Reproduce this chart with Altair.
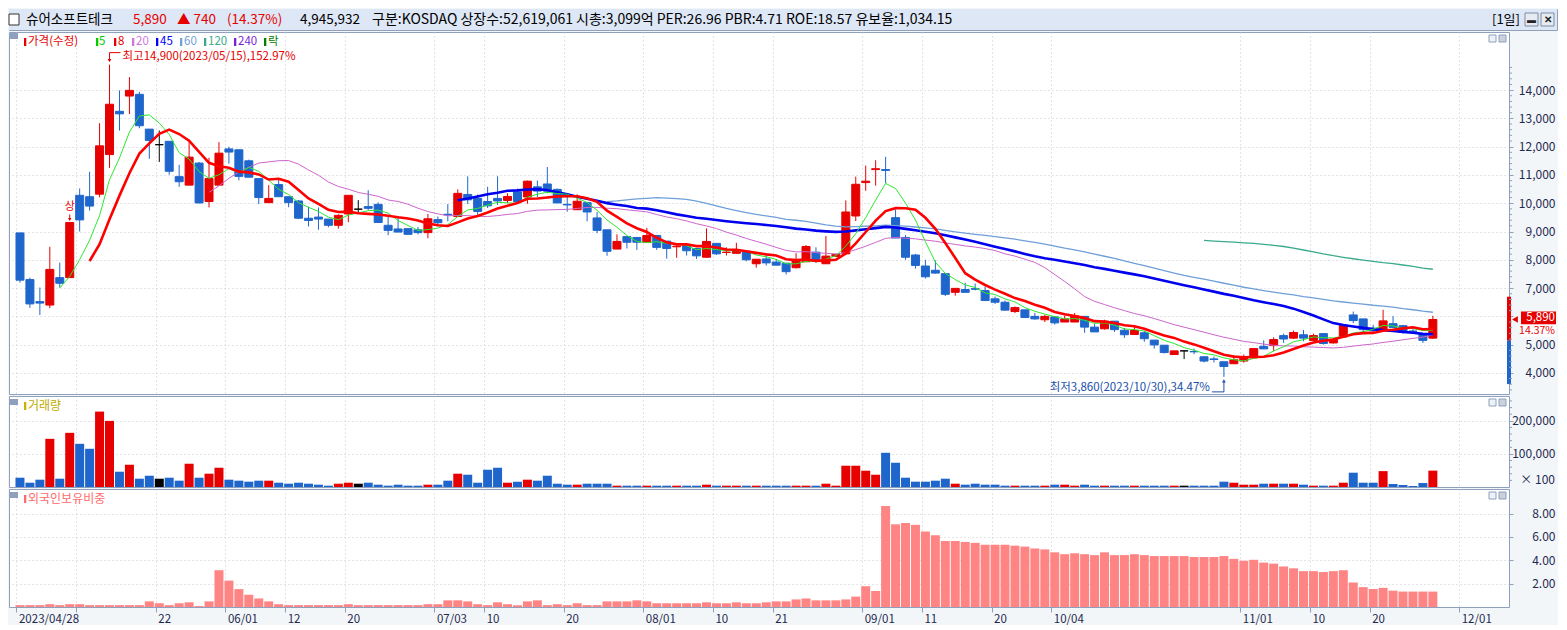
import json
import altair as alt
import numpy as np
import pandas as pd

# ------------------------------------------------------------------ data
OPEN = [8950, 7300, 6520, 6400, 7370, 7370, 10280, 10230, 10320, 11720,
        13250, 13790, 13850, 12620, 12070, 12190, 10940, 10640, 11420, 10060,
        10640, 11920, 11890, 11500, 10870, 10020, 10660, 10230, 10080, 9470,
        9510, 9440, 9220, 9620, 9790, 9880, 9960, 9220, 9090, 9100,
        9060, 8960, 9420, 9610, 9530, 10310, 10170, 10060, 10170, 10100,
        10400, 10220, 10580, 10680, 10490, 9960, 9770, 10020, 9480, 9060,
        8380, 8820, 8790, 8610, 8860, 8660, 8460, 8530, 8400, 8090,
        8580, 8260, 8230, 8300, 7860, 8030, 7920, 7880, 7720, 7930,
        8270, 7860, 8120, 8210, 9550, 10730, 11190, 11190, 9490, 8790,
        8170, 7780, 7630, 7510, 6850, 6950, 6980, 6910, 6620, 6500,
        6170, 6230, 6000, 5880, 5980, 5800, 5800, 6000, 5620, 5560,
        5830, 5510, 5360, 5420, 5160, 4980, 4650, 4780, 4760, 4570,
        4495, 4395, 4325, 4420, 4535, 4940, 4965, 5320, 5230, 5350,
        5150, 5390, 5060, 5270, 6050, 5910, 5580, 5500, 5740, 5670,
        5480, 5350, 5230]
HIGH = [8950, 7370, 7020, 8460, 7900, 9320, 10520, 11110, 12830, 14900,
        13990, 14460, 13940, 12620, 12570, 12190, 11360, 12250, 11460, 11610,
        12160, 12000, 11890, 11540, 10870, 10640, 10840, 10230, 10110, 9880,
        9850, 9440, 9610, 10280, 10110, 10460, 10030, 9530, 9530, 9100,
        9160, 9620, 9530, 9970, 10490, 10950, 10310, 10580, 10950, 10350,
        10520, 10800, 10800, 11280, 10520, 10220, 10310, 10040, 9690, 9060,
        8900, 8820, 8790, 9130, 8880, 8660, 8560, 8530, 8400, 9110,
        8580, 8440, 8600, 8300, 8020, 8190, 8030, 7880, 8230, 8520,
        8440, 8840, 8210, 10100, 10940, 11330, 11520, 11640, 9780, 8880,
        8210, 8000, 7980, 7510, 6990, 7190, 7160, 7050, 6700, 6560,
        6350, 6230, 6120, 6060, 6000, 6030, 6120, 6000, 5740, 5880,
        5830, 5590, 5650, 5480, 5160, 4980, 4780, 4780, 4860, 4600,
        4580, 4395, 4625, 4650, 4860, 5150, 5260, 5390, 5500, 5520,
        5390, 5410, 5230, 5680, 6170, 5910, 5700, 6230, 6010, 5700,
        5610, 5410, 6020]
LOW = [7190, 6300, 6050, 6290, 7020, 7370, 9000, 9740, 10210, 11250,
       12570, 13150, 12650, 11570, 11460, 11010, 10580, 10640, 9990, 9850,
       10640, 11400, 10810, 10920, 9970, 10020, 10230, 9860, 9440, 9180,
       9060, 9150, 9100, 9330, 9680, 9760, 9320, 8870, 8980, 8890,
       8900, 8760, 9190, 9360, 9530, 9970, 9540, 9830, 9940, 10000,
       9990, 9980, 10220, 10350, 10010, 9700, 9770, 9360, 8940, 8140,
       8380, 8400, 8350, 8610, 8350, 8040, 8070, 8150, 8030, 8070,
       8170, 8150, 8230, 7950, 7720, 7800, 7810, 7480, 7690, 7930,
       7890, 7860, 8120, 8200, 9370, 10440, 10620, 10710, 8770, 8000,
       7690, 7340, 7510, 6720, 6730, 6850, 6920, 6560, 6440, 6200,
       6120, 5940, 5880, 5800, 5710, 5800, 5800, 5420, 5450, 5530,
       5450, 5240, 5360, 5100, 4860, 4690, 4650, 4490, 4660, 4370,
       4370, 3860, 4325, 4360, 4510, 4850, 4765, 5060, 5200, 5120,
       5120, 5000, 5040, 5260, 5760, 5430, 5430, 5500, 5580, 5390,
       5430, 5060, 5200]
CLOSE = [7280, 6440, 6470, 7660, 7170, 9320, 9410, 9900, 12030, 13500,
         13160, 13990, 12740, 12220, 12070, 11130, 10760, 11630, 10010, 10870,
         11770, 11810, 10950, 10920, 10200, 10170, 10230, 10020, 9470, 9390,
         9440, 9220, 9570, 10280, 9790, 9820, 9320, 9040, 8980, 8900,
         8960, 9450, 9310, 9590, 10350, 10120, 9710, 9910, 10080, 10240,
         10060, 10780, 10430, 10430, 10010, 9940, 10070, 9690, 9040, 8300,
         8650, 8620, 8620, 8860, 8440, 8400, 8480, 8320, 8140, 8650,
         8210, 8270, 8350, 8000, 8020, 7890, 7810, 7580, 7980, 8470,
         7950, 8130, 8190, 9690, 10670, 10780, 11220, 11160, 8770, 8090,
         7800, 7400, 7530, 6780, 6990, 6850, 6960, 6560, 6500, 6220,
         6310, 5960, 5910, 6000, 5770, 5910, 6020, 5620, 5450, 5830,
         5530, 5350, 5500, 5210, 4990, 4720, 4780, 4780, 4745, 4420,
         4475, 4230, 4465, 4535, 4860, 4850, 5180, 5200, 5430, 5230,
         5320, 5040, 5180, 5680, 5850, 5530, 5490, 5840, 5610, 5430,
         5470, 5150, 5890]
# volume, in units of 100 shares (as on the axis)
VOLUME = [28100, 13000, 22100, 145600, 25100, 163700, 130500, 115500, 227900, 199800,
          46200, 67300, 25100, 34100, 25100, 28100, 19100, 70300, 28100, 40200,
          58200, 22100, 19100, 16100, 19100, 19100, 13000, 10000, 13000, 10000,
          7000, 4000, 10000, 13000, 10000, 13000, 7000, 4000, 7000, 4000,
          4000, 7000, 7000, 19100, 40200, 37100, 13000, 52200, 58200, 13000,
          16100, 22100, 19100, 34100, 10000, 7000, 7000, 10000, 10000, 10000,
          4000, 4000, 4000, 4000, 4000, 4000, 4000, 4000, 4000, 7000,
          4000, 4000, 4000, 4000, 4000, 4000, 4000, 4000, 4000, 4000,
          4000, 10000, 4000, 64300, 64300, 49200, 37100, 103400, 73300, 28100,
          16100, 16100, 19100, 25100, 10000, 7000, 10000, 7000, 7000, 4000,
          4000, 4000, 4000, 4000, 7000, 7000, 4000, 7000, 4000, 4000,
          4000, 4000, 4000, 4000, 4000, 4000, 4000, 4000, 4000, 4000,
          4000, 16100, 13000, 7000, 7000, 10000, 10000, 10000, 10000, 7000,
          4000, 4000, 4000, 13000, 43200, 13000, 13000, 48000, 9000, 6000,
          3000, 12000, 49459]
# foreign ownership ratio, %
FOREIGN = [0.16, 0.16, 0.16, 0.24, 0.16, 0.24, 0.24, 0.16, 0.16, 0.16,
           0.16, 0.16, 0.16, 0.48, 0.32, 0.16, 0.32, 0.40, 0.08, 0.48,
           3.15, 2.26, 1.53, 1.05, 0.73, 0.48, 0.24, 0.16, 0.16, 0.16,
           0.16, 0.16, 0.16, 0.24, 0.16, 0.16, 0.16, 0.16, 0.16, 0.16,
           0.16, 0.24, 0.24, 0.57, 0.57, 0.48, 0.24, 0.16, 0.40, 0.24,
           0.16, 0.48, 0.57, 0.16, 0.24, 0.16, 0.32, 0.16, 0.16, 0.48,
           0.48, 0.48, 0.57, 0.48, 0.32, 0.32, 0.32, 0.32, 0.32, 0.40,
           0.32, 0.32, 0.40, 0.32, 0.32, 0.40, 0.48, 0.48, 0.65, 0.73,
           0.57, 0.57, 0.57, 0.65, 0.89, 1.78, 1.37, 8.64, 7.08, 7.19,
           7.03, 6.46, 6.14, 5.65, 5.65, 5.57, 5.49, 5.33, 5.33, 5.33,
           5.25, 5.17, 5.01, 4.93, 4.68, 4.52, 4.60, 4.52, 4.44, 4.68,
           4.44, 4.44, 4.52, 4.44, 4.36, 4.36, 4.36, 4.36, 4.28, 4.28,
           4.28, 4.36, 4.12, 3.96, 4.04, 3.80, 3.71, 3.47, 3.31, 3.07,
           3.07, 2.99, 3.07, 3.15, 2.10, 1.70, 1.54, 1.64, 1.40, 1.32,
           1.32, 1.32, 1.32]

TICK_IDX = [0, 6, 14, 21, 27, 33, 42, 47, 55, 63, 70, 76, 85, 91, 98, 104, 123, 130, 136, 145]
TICK_LABELS = ["2023/04/28", "", "22", "06/01", "12", "20", "07/03", "10", "20", "08/01",
               "10", "21", "09/01", "11", "20", "10/04", "11/01", "10", "20", "12/01"]
PRICE_TICKS = [4000, 5000, 6000, 7000, 8000, 9000, 10000, 11000, 12000, 13000, 14000]
VOL_TICKS = [100000, 200000]
FRN_TICKS = [2, 4, 6, 8]
MA_PERIODS = [5, 8, 20, 45, 60, 120]
LIMIT_UP_IDX = [5]
PRICE_LIMITS = [3605, 5150, 6695]          # lower limit, previous close, upper limit

NAME = "슈어소프트테크"
HDR_PRICE = "5,890"
HDR_CHANGE = "▲ 740"
HDR_PCT = "(14.37%)"
HDR_VOL = "4,945,932"
HDR_INFO = "구분:KOSDAQ 상장수:52,619,061 시총:3,099억 PER:26.96 PBR:4.71 ROE:18.57 유보율:1,034.15"
HIGH_LABEL = "최고14,900(2023/05/15),152.97%"
LOW_LABEL = "최저3,860(2023/10/30),34.47%"
LAST_PCT = "14.37%"
LEGEND = ["가격(수정)", "5", "8", "20", "45", "60", "120", "240", "락"]

# ------------------------------------------------------------------ styles
FONT = "Noto Sans CJK KR"
RED = "#e60000"
BLUE = "#1f66cc"
BORDER = "#8fa0bd"
GRID = "#c4c8ce"
AXTXT = "#1e2a50"
PINK = "#ff8484"
MA_STYLE = {5: ("#2ee82e", 1.0), 8: ("#ff0000", 2.6), 20: ("#cc66cc", 1.0),
            45: ("#0000ee", 2.6), 60: ("#6f9fd8", 1.3), 120: ("#3aaa8c", 1.3)}
LEGEND_BAR_X = [15, 87, 105, 123, 147, 171, 195, 225, 255]
LEGEND_TXT_X = [19, 90, 109, 127, 151, 175, 199, 229, 259]
LEGEND_COLORS = [RED, "#00cc00", RED, "#cc77dd", "#0000ff", "#6f9fd8", "#3aaa8c", "#7b1fd6", "#008000"]

W = 1500
TOTAL_W = 1548
H_HDR, H_PRICE, H_VOL, H_FRN = 21, 362, 91, 118

df = pd.DataFrame({"i": np.arange(len(CLOSE)), "open": OPEN, "high": HIGH, "low": LOW,
                   "close": CLOSE, "vol": VOLUME, "frn": FOREIGN})
df["dir"] = np.where(df.close > df.open, "up", np.where(df.close < df.open, "down", "flat"))
ONE = pd.DataFrame({"k": [0]})

DIR_SCALE = alt.Scale(domain=["up", "down", "flat"], range=[RED, BLUE, "#000000"])
XS = alt.Scale(domain=[-0.6, 149.15], nice=False, zero=False)
GRID_VALUES = [t - 0.35 for t in TICK_IDX]
LABEL_EXPR = f"{json.dumps(TICK_LABELS)}[indexof({json.dumps(TICK_IDX)}, round(datum.value + 0.35))]"

X_HIDDEN = alt.Axis(values=GRID_VALUES, labels=False, ticks=False, domain=False, grid=True,
                    title=None, gridColor=GRID, gridDash=[1, 3])
X_BOTTOM = alt.Axis(values=GRID_VALUES, labelExpr=LABEL_EXPR, ticks=True, tickSize=5,
                    tickColor=BORDER, domain=False, grid=True, title=None, labelAlign="left",
                    labelBaseline="top", labelPadding=1, labelOffset=2, labelFlush=False,
                    labelOverlap=False, labelBound=False, labelFontSize=11.5, labelColor=AXTXT,
                    gridColor=GRID, gridDash=[1, 3])


def xenc(axis):
    return alt.X("i:Q", scale=XS, axis=axis)


def yaxis(values, label_expr):
    return alt.Axis(orient="right", values=values, labelExpr=label_expr, grid=True, gridColor=GRID,
                    gridDash=[1, 3], ticks=True, tickSize=4, tickColor=BORDER, domain=False,
                    labelPadding=42, labelAlign="right", labelBaseline="middle",
                    labelFontSize=12, labelColor=AXTXT, title=None, minExtent=48, maxExtent=48)


def text_at(txt, x, y, color, size=12, align="left", **kw):
    return alt.Chart(ONE).mark_text(text=txt, align=align, baseline="middle", fontSize=size,
                                    color=color, font=FONT, **kw).encode(
        x=alt.value(x), y=alt.value(y))


def box_at(x1, x2, y1, y2, fill, stroke=None):
    kw = {"stroke": stroke, "strokeWidth": 1} if stroke else {}
    return alt.Chart(ONE).mark_rect(color=fill, **kw).encode(
        x=alt.value(x1), x2=alt.value(x2), y=alt.value(y1), y2=alt.value(y2))


def panel_icons():
    return [box_at(W - 20, W - 13, 3, 10, "#eef1f5", BORDER),
            box_at(W - 10, W - 3, 3, 10, "#c9d1dd", BORDER)]


# ------------------------------------------------------------------ header
header = alt.layer(
    box_at(0, TOTAL_W, 0, H_HDR, "#dde7f5"),
    box_at(0, 10, 5, 16, "white", "#333333"),
    text_at(NAME, 17, 11, "#000000", 13.5),
    text_at(HDR_PRICE, 124, 11, RED, 13.5),
    text_at(HDR_CHANGE, 168, 11, RED, 13.5),
    text_at(HDR_PCT, 218, 11, RED, 13.5),
    text_at(HDR_VOL, 291, 11, "#000000", 13.5),
    text_at(HDR_INFO, 363, 11, "#000000", 14),
    text_at("[1일]", 1483, 11, "#000000", 13),
    box_at(1516, 1529, 4, 17, "#e6ebf2", "#7f8ca0"),
    box_at(1532, 1545, 4, 17, "#e6ebf2", "#7f8ca0"),
    text_at("▬", 1522.5, 10.5, "#222222", 9, "center"),
    text_at("✕", 1538.5, 10.5, "#222222", 10, "center", fontWeight="bold"),
).properties(width=TOTAL_W, height=H_HDR)

# ------------------------------------------------------------------ price panel
PS = alt.Scale(domain=[3255, 16054], nice=False, zero=False)
PA = yaxis(PRICE_TICKS, f"abs(datum.value - {CLOSE[-1]}) < 500 ? '' : format(datum.value, ',.0f')")


def yp(field):
    return alt.Y(field, type="quantitative", scale=PS, axis=PA)


base = alt.Chart(df)
color_dir = alt.Color("dir:N", scale=DIR_SCALE, legend=None)
wicks = base.mark_rule(strokeWidth=1).encode(x=xenc(X_HIDDEN), y=yp("low"), y2="high", color=color_dir)
bodies = base.mark_bar(size=8, strokeWidth=1).encode(
    x=xenc(X_HIDDEN), y=yp("open"), y2="close", color=color_dir,
    stroke=alt.Stroke("dir:N", scale=DIR_SCALE, legend=None))

ma_layers = []
for n in [120, 60, 20, 45, 5, 8]:
    c, w = MA_STYLE[n]
    ma_layers.append(
        base.transform_window(ma="mean(close)", frame=[-(n - 1), 0], sort=[alt.SortField("i")])
        .transform_filter(f"datum.i >= {n - 1}")
        .mark_line(color=c, strokeWidth=w)
        .encode(x=xenc(X_HIDDEN), y=yp("ma"))
    )

hi_i = int(np.argmax(HIGH))
lo_i = int(np.argmin(LOW))
hi_df = pd.DataFrame({"i": [hi_i], "p": [HIGH[hi_i]]})
lo_df = pd.DataFrame({"i": [lo_i], "p": [LOW[lo_i]]})
lu_df = pd.DataFrame({"i": LIMIT_UP_IDX, "p": [HIGH[k] for k in LIMIT_UP_IDX]})
last_df = pd.DataFrame({"p": [CLOSE[-1]]})
lim_df = pd.DataFrame({"lo": [PRICE_LIMITS[0], PRICE_LIMITS[1]],
                       "hi": [PRICE_LIMITS[1], PRICE_LIMITS[2]], "kind": ["down", "up"]})
minor_p = pd.DataFrame({"t": [v for v in range(3400, 15000, 200) if v % 1000]})
LOWC = "#2050a8"

annot = [
    # high
    alt.Chart(hi_df).mark_rule(color=RED, strokeWidth=1, yOffset=-4, y2Offset=-12).encode(
        x=xenc(X_HIDDEN), y=yp("p"), y2="p"),
    alt.Chart(hi_df).mark_rule(color=RED, strokeWidth=1, yOffset=-12, x2Offset=11).encode(
        x=xenc(X_HIDDEN), x2="i", y=yp("p")),
    alt.Chart(hi_df).mark_point(shape="triangle-down", filled=True, size=14, color=RED, opacity=1,
                                yOffset=-4).encode(x=xenc(X_HIDDEN), y=yp("p")),
    alt.Chart(hi_df).mark_text(text=HIGH_LABEL, align="left", baseline="middle", dx=13, dy=-8,
                               fontSize=11.5, color=RED, font=FONT).encode(x=xenc(X_HIDDEN), y=yp("p")),
    # low
    alt.Chart(lo_df).mark_rule(color=LOWC, strokeWidth=1, yOffset=4, y2Offset=15).encode(
        x=xenc(X_HIDDEN), y=yp("p"), y2="p"),
    alt.Chart(lo_df).mark_rule(color=LOWC, strokeWidth=1, yOffset=15, x2Offset=-12).encode(
        x=xenc(X_HIDDEN), x2="i", y=yp("p")),
    alt.Chart(lo_df).mark_point(shape="triangle-up", filled=True, size=14, color=LOWC, opacity=1,
                                yOffset=4).encode(x=xenc(X_HIDDEN), y=yp("p")),
    alt.Chart(lo_df).mark_text(text=LOW_LABEL, align="right", baseline="middle", dx=-14, dy=11,
                               fontSize=11.5, color=LOWC, font=FONT).encode(x=xenc(X_HIDDEN), y=yp("p")),
    # upper-limit marker
    alt.Chart(lu_df).mark_text(text="상", align="center", baseline="middle", dy=-15, fontSize=11,
                               color=RED, font=FONT).encode(x=xenc(X_HIDDEN), y=yp("p")),
    alt.Chart(lu_df).mark_rule(color=RED, strokeWidth=1, yOffset=-3, y2Offset=-8).encode(
        x=xenc(X_HIDDEN), y=yp("p"), y2="p"),
    alt.Chart(lu_df).mark_point(shape="triangle-down", filled=True, size=12, color=RED, opacity=1,
                                yOffset=-3).encode(x=xenc(X_HIDDEN), y=yp("p")),
    # right side: limit bar, minor ticks, current price marker and labels
    alt.Chart(lim_df).mark_rect().encode(
        x=alt.value(W - 2), x2=alt.value(W + 2), y=yp("lo"), y2="hi",
        color=alt.Color("kind:N", scale=alt.Scale(domain=["up", "down"], range=[RED, BLUE]), legend=None)),
    alt.Chart(minor_p).mark_rule(color=BORDER, strokeWidth=1).encode(
        x=alt.value(W), x2=alt.value(W + 3), y=yp("t")),
    alt.Chart(last_df).mark_point(shape="triangle-left", filled=True, size=45, color=RED, opacity=1).encode(
        x=alt.value(W + 6), y=yp("p")),
    alt.Chart(last_df).mark_rect(color=RED, yOffset=-8, y2Offset=5).encode(
        x=alt.value(W + 12), x2=alt.value(W + 47), y=yp("p"), y2="p"),
    alt.Chart(last_df).mark_rect(color="white", yOffset=5, y2Offset=17).encode(
        x=alt.value(W + 12), x2=alt.value(W + 47), y=yp("p"), y2="p"),
    alt.Chart(last_df).mark_text(align="right", baseline="middle", fontSize=11.5, color="white", dy=-1.5,
                                 font=FONT).encode(x=alt.value(W + 46), y=yp("p"),
                                                   text=alt.Text("p:Q", format=",")),
    alt.Chart(last_df).mark_text(text=LAST_PCT, align="right", baseline="middle", dy=11.5, fontSize=10.5,
                                 color=RED, font=FONT).encode(x=alt.value(W + 46), y=yp("p")),
]

legend_layers = [box_at(0, 9, 1, 7, BORDER)]
for txt, bx, tx, lc in zip(LEGEND, LEGEND_BAR_X, LEGEND_TXT_X, LEGEND_COLORS):
    legend_layers.append(box_at(bx, bx + 2.3, 6, 14, lc))
    legend_layers.append(text_at(txt, tx, 10, lc, 11.5))

price = alt.layer(wicks, bodies, *ma_layers, *annot, *legend_layers, *panel_icons()).properties(
    width=W, height=H_PRICE)

# ------------------------------------------------------------------ volume panel
VS = alt.Scale(domain=[0, 275000], nice=False, zero=True)
VA = yaxis(VOL_TICKS, "format(datum.value, ',.0f')")
minor_v = pd.DataFrame({"t": [v for v in range(20000, 270000, 20000) if v % 100000]})
vol = alt.layer(
    base.mark_bar(size=9).encode(x=xenc(X_HIDDEN), y=alt.Y("vol:Q", scale=VS, axis=VA), color=color_dir),
    alt.Chart(minor_v).mark_rule(color=BORDER, strokeWidth=1).encode(
        x=alt.value(W), x2=alt.value(W + 3), y=alt.Y("t:Q", scale=VS, axis=VA)),
    text_at("× 100", W + 46, H_VOL - 7, AXTXT, 12, "right"),
    box_at(0, 9, 3, 9, BORDER),
    box_at(15, 17.3, 6, 14, "#c8b400"),
    text_at("거래량", 19, 10, "#c0ac00", 12),
    *panel_icons(),
).properties(width=W, height=H_VOL)

# ------------------------------------------------------------------ foreign ownership panel
FS = alt.Scale(domain=[0, 10.1], nice=False, zero=True)
FA = yaxis(FRN_TICKS, "format(datum.value, '.2f')")
frn = alt.layer(
    base.mark_bar(size=9, color=PINK).encode(x=xenc(X_BOTTOM), y=alt.Y("frn:Q", scale=FS, axis=FA)),
    box_at(0, 9, 3, 9, BORDER),
    box_at(15, 17.3, 6, 14, "#ff6b6b"),
    text_at("외국인보유비중", 19, 10, "#ff6b6b", 12),
    *panel_icons(),
).properties(width=W, height=H_FRN)

chart = (
    alt.vconcat(header, price, vol, frn, spacing=0)
    .properties(padding=0, background="#f3f6f9")
    .configure(font=FONT)
    .configure_view(stroke=BORDER, strokeWidth=1, fill="white")
    .configure_axis(labelFont=FONT)
)

chart.save("out.html", embed_options={"renderer": "svg", "actions": False})
